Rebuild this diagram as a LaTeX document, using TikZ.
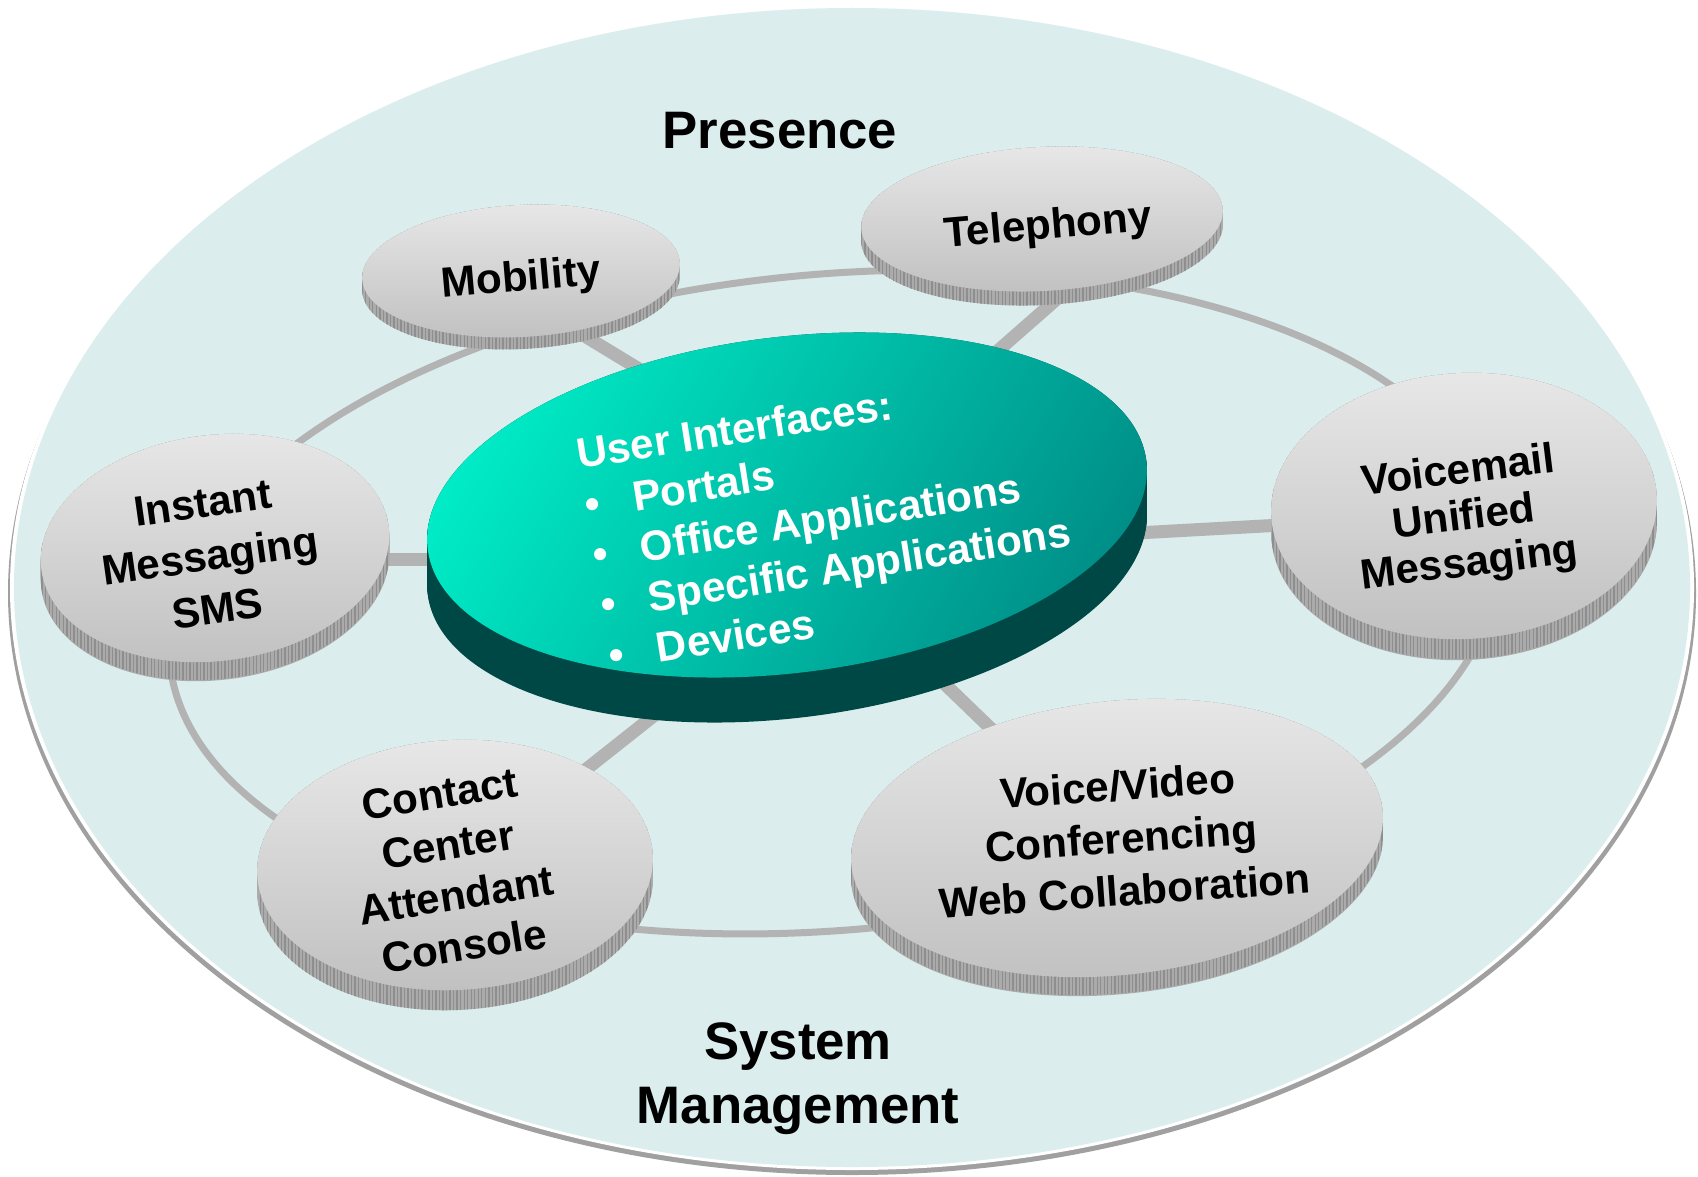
\documentclass[tikz,border=0pt]{standalone}
\usepackage{fontspec}
\setmainfont{Liberation Sans}
\usetikzlibrary{patterns.meta}
\definecolor{bgfill}{HTML}{DBEDED}
\definecolor{shadowgray}{HTML}{A0A0A0}
\definecolor{linkgray}{HTML}{B3B3B3}
\definecolor{sattop}{HTML}{E8E8E8}
\definecolor{satbot}{HTML}{C0C0C0}
\definecolor{satrim}{HTML}{ABABAB}
\definecolor{satstripe}{HTML}{8E8E8E}
\definecolor{discL}{HTML}{00ECC6}
\definecolor{discR}{HTML}{008F88}
\definecolor{discrim}{HTML}{004846}
\tikzset{
  ringline/.style={draw=linkgray, line width=0.7mm},
  spokeline/.style={draw=linkgray, line width=1.3mm, line cap=butt},
  sattext/.style={font=\fontsize{12}{14}\selectfont\bfseries, align=center, inner sep=0pt, text=black},
  disctext/.style={font=\fontsize{12}{14.5}\selectfont\bfseries, align=left, inner sep=0pt, text=white},
  bigtext/.style={font=\fontsize{15}{18.2}\selectfont\bfseries, inner sep=0pt, text=black},
}
% cx, cy, rx, ry, rotation, thickness
\newcommand{\drawsat}[6]{%
  \foreach \k in {0,...,#6}{%
    \fill[satrim, rotate around={#5:(#1,#2-\k)}] (#1,#2-\k) ellipse [x radius=#3, y radius=#4];
  }
  \foreach \k in {0,2,...,#6}{%
    \fill[pattern={Lines[angle=90,distance=1pt,line width=0.4pt]}, pattern color=satstripe, rotate around={#5:(#1,#2-\k)}] (#1,#2-\k) ellipse [x radius=#3, y radius=#4];
  }
  \shade[top color=sattop, bottom color=satbot, rotate around={#5:(#1,#2)}] (#1,#2) ellipse [x radius=#3, y radius=#4];
}
\begin{document}
\begin{tikzpicture}[x=0.01cm, y=0.01cm]
\useasboundingbox (0,0) rectangle (1698,-1176);
\fill[white] (0,0) rectangle (1698,-1176);
% outer field
\fill[shadowgray] (852,-593) ellipse [x radius=844, y radius=582];
\fill[white] (852,-587.5) ellipse [x radius=842, y radius=582.5];
\fill[bgfill] (852,-587.5) ellipse [x radius=838, y radius=579.5];
% ring
\draw[ringline, rotate around={5:(834,-602)}] (834,-602) ellipse [x radius=667, y radius=328];
% spoke end points
\coordinate (s1a) at (555,-318);  \coordinate (s1b) at (700,-406);
\coordinate (s2a) at (1075,-283); \coordinate (s2b) at (960,-384);
\coordinate (s3a) at (370,-559);  \coordinate (s3b) at (460,-559);
\coordinate (s4a) at (1300,-524); \coordinate (s4b) at (1100,-535);
\coordinate (s5a) at (565,-786);  \coordinate (s5b) at (680,-695);
\coordinate (s6a) at (1010,-747); \coordinate (s6b) at (925,-665);
\foreach \i in {1,...,6} \draw[spokeline] (s\i a) -- (s\i b);
% central disc
\foreach \k in {0,...,45}{%
  \fill[discrim, rotate around={7:(787,-505-\k)}] (787,-505-\k) ellipse [x radius=362, y radius=168];
}
\shade[left color=discL, right color=discR, shading angle=60, rotate around={7:(787,-505)}] (787,-505) ellipse [x radius=362, y radius=168];
% satellites
\drawsat{521}{-271}{159}{66}{3}{12}
\drawsat{1042}{-219}{181}{72}{3}{14}
\drawsat{215}{-548}{175}{113}{7}{19}
\drawsat{1464}{-506}{193}{133}{3}{21}
\drawsat{455}{-865}{198}{125}{3}{20}
\drawsat{1117}{-838}{267}{137}{6}{19}
% texts
\node[sattext, rotate=5] (mob) at (521,-280) {Mobility};
\node[sattext, rotate=5] (tel) at (1048,-228) {Telephony};
\node[sattext, rotate=8, font=\fontsize{12}{15.2}\selectfont\bfseries] (ims) at (210,-556) {Instant\\Messaging\\SMS};
\node[sattext, rotate=7, font=\fontsize{12}{13.2}\selectfont\bfseries] (vm) at (1464,-519) {Voicemail\\Unified\\Messaging};
\node[sattext, rotate=9, font=\fontsize{12}{14.6}\selectfont\bfseries] (cc) at (452,-870) {Contact\\Center\\Attendant\\Console};
\node[sattext, rotate=4, font=\fontsize{12}{15}\selectfont\bfseries] (vv) at (1121,-838) {Voice/Video\\Conferencing\\Web Collaboration};
\node[disctext, rotate=9, anchor=north west] (ui) at (574,-438) {User Interfaces:\\
\makebox[0.48cm][l]{\textbullet}Portals\\
\makebox[0.48cm][l]{\textbullet}Office Applications\\
\makebox[0.48cm][l]{\textbullet}Specific Applications\\
\makebox[0.48cm][l]{\textbullet}Devices};
\node[bigtext, anchor=base] (pres) at (780,-149) {Presence};
\node[bigtext, anchor=base, align=center] (sysm) at (798,-1123) {System\\Management};
\end{tikzpicture}
\end{document}
